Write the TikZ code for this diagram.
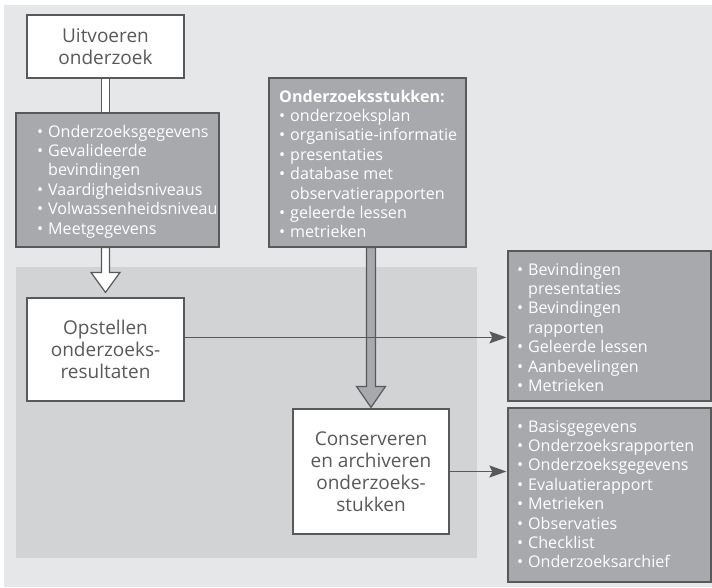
\documentclass[tikz,border=0pt]{standalone}
\usepackage{fontspec}
\setmainfont{Open Sans}
\usetikzlibrary{arrows.meta,calc}
\definecolor{bgouter}{HTML}{E6E7E8}
\definecolor{bginner}{HTML}{D1D3D4}
\definecolor{gbox}{HTML}{A7A9AC}
\definecolor{dk}{HTML}{58595B}
\newcommand\bulitem{\makebox[11pt][l]{•}}
\newcommand\bulcont{\hspace*{11pt}}
\begin{document}
\begin{tikzpicture}[x=1pt,y=-1pt,
  whitebox/.style={draw=dk, fill=white, line width=1.2pt, align=center,
    font=\fontsize{19}{22}\selectfont, text=dk, inner sep=0pt},
  greybox/.style={draw=dk, fill=gbox, line width=1.2pt, inner sep=0pt},
  listtxt/.style={text=white, align=left, font=\fontsize{16.1}{19.4}\selectfont,
    inner sep=0pt, anchor=base west},
  hollowarrow/.style={draw=dk, fill=white, line width=1.2pt, line join=miter},
  greyarrow/.style={draw=dk, fill=gbox, line width=1.2pt, line join=miter},
  thinarrow/.style={draw=dk, line width=1.6pt,
    -{Stealth[length=17pt,width=12pt,inset=3pt]}, shorten >=1pt}
]
\useasboundingbox (0,0) rectangle (712,587);
\fill[bgouter] (4,5) rectangle (712,587);
\fill[bginner] (16,267) rectangle (477,558);

% boxes
\node[whitebox, minimum width=157, minimum height=63] (uit) at (105.5,46.5) {Uitvoeren\\onderzoek};
\node[greybox, minimum width=203, minimum height=134] (l1) at (117.5,180) {};
\node[greybox, minimum width=197, minimum height=169] (stk) at (367.5,162.5) {};
\node[whitebox, minimum width=157, minimum height=103] (opst) at (105.5,349.5) {Opstellen\\onderzoeks-\\resultaten};
\node[whitebox, minimum width=156, minimum height=125] (cons) at (371,471.5) {Conserveren\\en archiveren\\onderzoeks-\\stukken};
\node[greybox, minimum width=203, minimum height=150] (r1) at (609.5,326) {};
\node[greybox, minimum width=203, minimum height=174] (r2) at (609.5,495) {};

% list texts (anchor = baseline of the last line)
\node[listtxt] (l1t) at (37,234) {\bulitem Onderzoeksgegevens\\\bulitem Gevalideerde\\\bulcont bevindingen\\\bulitem Vaardigheidsniveaus\\\bulitem Volwassenheidsniveau\\\bulitem Meetgegevens};
\node[listtxt] (stkt) at (279,237.8) {\textbf{Onderzoeksstukken:}\\\bulitem onderzoeksplan\\\bulitem organisatie-informatie\\\bulitem presentaties\\\bulitem database met\\\bulcont observatierapporten\\\bulitem geleerde lessen\\\bulitem metrieken};
\node[listtxt] (r1t) at (517,391.4) {\bulitem Bevindingen\\\bulcont presentaties\\\bulitem Bevindingen\\\bulcont rapporten\\\bulitem Geleerde lessen\\\bulitem Aanbevelingen\\\bulitem Metrieken};
\node[listtxt] (r2t) at (517,567.8) {\bulitem Basisgegevens\\\bulitem Onderzoeksrapporten\\\bulitem Onderzoeksgegevens\\\bulitem Evaluatierapport\\\bulitem Metrieken\\\bulitem Observaties\\\bulitem Checklist\\\bulitem Onderzoeksarchief};

% hollow arrow 1
\draw[hollowarrow] ($(uit.south)+(-4,0)$) -- ($(uit.south |- l1.north)+(-4,0)$)
  -- ($(uit.south |- l1.north)+(4,0)$) -- ($(uit.south)+(4,0)$) -- cycle;
% hollow arrow 2
\draw[hollowarrow] ($(opst.north |- l1.south)+(-4,0)$) -- ($(opst.north)+(-4,-25)$)
  -- ($(opst.north)+(-14.5,-25)$) -- ($(opst.north)+(0,-5)$)
  -- ($(opst.north)+(14.5,-25)$) -- ($(opst.north)+(4,-25)$)
  -- ($(opst.north |- l1.south)+(4,0)$) -- cycle;
% grey arrow
\draw[greyarrow] ($(cons.north |- stk.south)+(-4.5,0)$) -- ($(cons.north)+(-4.5,-22)$)
  -- ($(cons.north)+(-14.5,-22)$) -- ($(cons.north)+(0,-1)$)
  -- ($(cons.north)+(14.5,-22)$) -- ($(cons.north)+(4.5,-22)$)
  -- ($(cons.north |- stk.south)+(4.5,0)$) -- cycle;
% thin arrows
\coordinate (o1) at ($(opst.north east)+(0,40)$);
\draw[thinarrow] (o1) -- (o1 -| r1.west);
\draw[thinarrow] (cons.east) -- (cons.east -| r2.west);
\end{tikzpicture}
\end{document}
